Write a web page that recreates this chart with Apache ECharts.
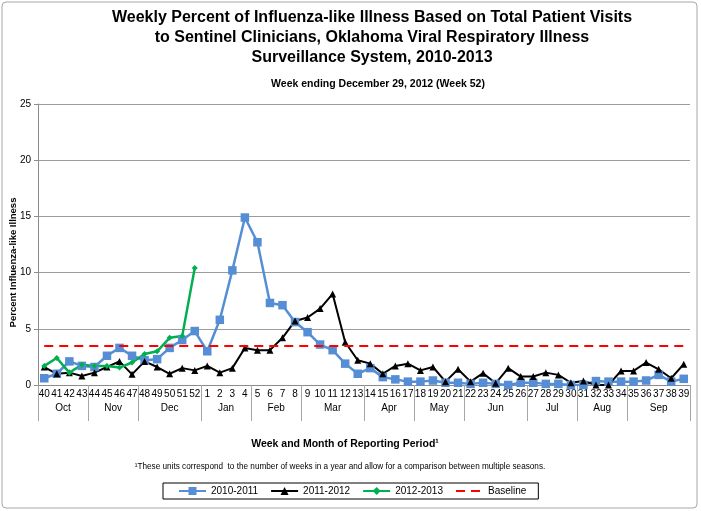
<!DOCTYPE html>
<html>
<head>
<meta charset="utf-8">
<script src="https://cdn.jsdelivr.net/npm/echarts@6/dist/echarts.min.js"></script>
<style>
html, body { margin: 0; padding: 0; background: #fff; }
#ili { width: 701px; height: 511px; }
</style>
</head>
<body>
<div id="ili"></div>
<script>
// week numbers of the surveillance season (week 40 -> week 39)
var weeks = ['40','41','42','43','44','45','46','47','48','49','50','51','52',
    '1','2','3','4','5','6','7','8','9','10','11','12','13','14','15','16','17','18','19','20',
    '21','22','23','24','25','26','27','28','29','30','31','32','33','34','35','36','37','38','39'];
var months = ['Oct','Nov','Dec','Jan','Feb','Mar','Apr','May','Jun','Jul','Aug','Sep'];
var monthWeeks = [4, 4, 5, 4, 4, 5, 4, 4, 5, 4, 4, 5];

var season1011 = [0.6, 1.0, 2.1, 1.7, 1.6, 2.6, 3.3, 2.6, 2.2, 2.3, 3.3, 4.0, 4.8,
    3.0, 5.8, 10.2, 14.9, 12.7, 7.3, 7.1, 5.6, 4.7, 3.6, 3.1, 1.9, 1.0, 1.5, 0.7, 0.5, 0.3, 0.3, 0.4, 0.2,
    0.2, 0.1, 0.2, 0.1, 0.0, 0.2, 0.2, 0.1, 0.1, 0.0, 0.0, 0.35, 0.3, 0.3, 0.3, 0.4, 0.9, 0.3, 0.55];
var season1112 = [1.6, 1.0, 1.1, 0.8, 1.1, 1.6, 2.1, 0.95, 2.1, 1.6, 1.0, 1.5, 1.3,
    1.7, 1.1, 1.5, 3.3, 3.1, 3.1, 4.2, 5.7, 6.0, 6.8, 8.1, 3.8, 2.2, 1.9, 1.0, 1.7, 1.9, 1.3, 1.6, 0.3,
    1.4, 0.3, 1.05, 0.15, 1.5, 0.75, 0.75, 1.1, 0.9, 0.2, 0.35, 0.0, 0.0, 1.25, 1.25, 2.0, 1.4, 0.6, 1.85];
var season1213 = [1.7, 2.4, 1.1, 1.8, 1.7, 1.7, 1.55, 2.0, 2.75, 3.0, 4.2, 4.35, 10.4];
var baseline = 3.5;

var titleLines = ['Weekly Percent of Influenza-like Illness Based on Total Patient Visits',
    'to Sentinel Clinicians, Oklahoma Viral Respiratory Illness',
    'Surveillance System, 2010-2013'];
var subTitle = 'Week ending December 29, 2012 (Week 52)';
var xTitle = 'Week and Month of Reporting Period\u00b9';
var footNote = '\u00b9These units correspond  to the number of weeks in a year and allow for a comparison between multiple seasons.';

var font = 'Arial, "Liberation Sans", sans-serif';

// half-week slots for the month row: labels sit in the middle of a month, ticks on its edges
var slotLabel = {}, slotEdge = {0: true}, pos = 0;
for (var i = 0; i < months.length; i++) {
    slotLabel[pos * 2 + monthWeeks[i]] = months[i];
    pos += monthWeeks[i];
    slotEdge[pos * 2] = true;
}
var slots = [];
for (var k = 0; k <= pos * 2; k++) slots.push(String(k));

(function(){
    var myChart = echarts.init(document.getElementById('ili'));
    var option = {
        animation: false,
        backgroundColor: '#fff',
        textStyle: { fontFamily: font, color: '#000' },
        title: [{
            text: titleLines.join('\n'), left: 372, top: 8, padding: 0, textAlign: 'center',
            textStyle: { fontFamily: font, fontSize: 16, fontWeight: 'bold', lineHeight: 20, color: '#000' }
        }, {
            text: subTitle, left: 378, top: 79, padding: 0, textAlign: 'center',
            textStyle: { fontFamily: font, fontSize: 10.5, fontWeight: 'bold', color: '#000' }
        }, {
            text: xTitle, left: 345, top: 439, padding: 0, textAlign: 'center',
            textStyle: { fontFamily: font, fontSize: 10.5, fontWeight: 'bold', color: '#000' }
        }, {
            text: footNote, left: 340, top: 463, padding: 0, textAlign: 'center',
            textStyle: { fontFamily: font, fontSize: 8.2, fontWeight: 'normal', color: '#000' }
        }],
        graphic: [{
            type: 'rect', silent: true, z: -1,
            shape: { x: 2, y: 2, width: 695, height: 506, r: 4 },
            style: { fill: 'none', stroke: '#a6a6a6', lineWidth: 1 }
        }],
        legend: {
            left: 163, top: 483,
            padding: [3, 12, 3, 15],
            borderColor: '#000', borderWidth: 1,
            itemWidth: 27, itemHeight: 10, itemGap: 12,
            textStyle: { fontFamily: font, fontSize: 10, color: '#000' },
            data: ['2010-2011', '2011-2012', '2012-2013', { name: 'Baseline', itemStyle: { opacity: 0 } }]
        },
        grid: { left: 38, right: 11, top: 104, bottom: 126, containLabel: false, outerBoundsMode: 'none' },
        xAxis: [{
            type: 'category',
            data: weeks,
            boundaryGap: true,
            axisLine: { show: true, lineStyle: { color: '#8c8c8c', width: 1 } },
            axisTick: { show: false },
            axisLabel: { interval: 0, margin: 4, hideOverlap: false, fontFamily: font, fontSize: 10, color: '#000' },
            splitLine: { show: false }
        }, {
            type: 'category',
            data: slots,
            boundaryGap: false,
            position: 'bottom',
            axisLine: { show: false },
            axisTick: {
                show: true, length: 36,
                interval: function (idx) { return !!slotEdge[idx]; },
                lineStyle: { color: '#a6a6a6', width: 1 }
            },
            axisLabel: {
                margin: 18, hideOverlap: false,
                interval: function (idx) { return !!slotLabel[idx]; },
                formatter: function (v, idx) { return slotLabel[idx] || ''; },
                fontFamily: font, fontSize: 10, color: '#000'
            },
            splitLine: { show: false }
        }],
        yAxis: {
            type: 'value', min: 0, max: 25, interval: 5,
            name: 'Percent Influenza-like Illness',
            nameLocation: 'middle', nameGap: 20, nameMoveOverlap: false,
            nameTextStyle: { fontFamily: font, fontSize: 9.5, fontWeight: 'bold', color: '#000', padding: [0, 36, 0, 0] },
            axisLine: { show: true, lineStyle: { color: '#8c8c8c', width: 1 } },
            axisTick: { show: true, inside: false, length: 4, lineStyle: { color: '#8c8c8c' } },
            axisLabel: { margin: 7, fontFamily: font, fontSize: 10, color: '#000' },
            splitLine: { show: true, lineStyle: { color: '#9c9c9c', width: 1 } }
        },
        series: [{
            name: '2010-2011', type: 'line', data: season1011,
            symbol: 'rect', symbolSize: 8.5, showAllSymbol: true,
            lineStyle: { color: '#558ED5', width: 2.5 },
            itemStyle: { color: '#558ED5' }
        }, {
            name: '2011-2012', type: 'line', data: season1112,
            symbol: 'triangle', symbolSize: 7, showAllSymbol: true,
            lineStyle: { color: '#000', width: 2 },
            itemStyle: { color: '#000' }
        }, {
            name: '2012-2013', type: 'line', data: season1213,
            symbol: 'diamond', symbolSize: 6, showAllSymbol: true,
            lineStyle: { color: '#00B050', width: 2.5 },
            itemStyle: { color: '#00B050' }
        }, {
            name: 'Baseline', type: 'line', data: [],
            symbol: 'none',
            lineStyle: { color: '#FF0000', width: 2, type: [9, 6] },
            itemStyle: { color: '#FF0000' },
            markLine: {
                silent: true, symbol: 'none', label: { show: false },
                lineStyle: { color: '#FF0000', width: 2, type: [9, 6] },
                data: [[{ xAxis: weeks[0], yAxis: baseline }, { xAxis: weeks[weeks.length - 1], yAxis: baseline }]]
            }
        }]
    };
    myChart.setOption(option);
})();
</script>
</body>
</html>
